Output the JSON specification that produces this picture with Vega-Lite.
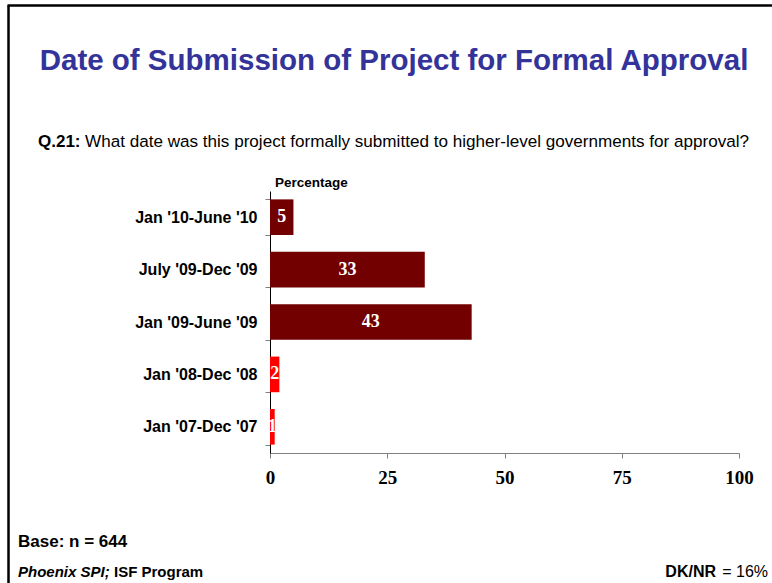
{
  "$schema": "https://vega.github.io/schema/vega-lite/v6.json",
  "autosize": "none",
  "width": 469,
  "height": 262,
  "padding": {"left": 270, "top": 191, "right": 33, "bottom": 130},
  "background": "white",
  "config": {"view": {"stroke": null}, "font": "Liberation Sans"},
  "data": {
    "values": [
      {"period": "Jan '10-June '10", "startYear": 2010, "percent": 5},
      {"period": "July '09-Dec '09", "startYear": 2009, "percent": 33},
      {"period": "Jan '09-June '09", "startYear": 2009, "percent": 43},
      {"period": "Jan '08-Dec '08", "startYear": 2008, "percent": 2},
      {"period": "Jan '07-Dec '07", "startYear": 2007, "percent": 1}
    ]
  },
  "layer": [
    {
      "mark": {"type": "bar"},
      "encoding": {
        "y": {
          "field": "period", "type": "nominal", "sort": null,
          "scale": {"paddingInner": 0.32, "paddingOuter": 0.16},
          "axis": {
            "title": null, "domainColor": "#000000", "tickColor": "#808080",
            "tickBand": "extent", "tickSize": 5, "labelFont": "Liberation Sans",
            "labelFontWeight": "bold", "labelFontSize": 16, "labelColor": "#000000",
            "labelPadding": 8, "labelLimit": 300
          }
        },
        "x": {
          "field": "percent", "type": "quantitative",
          "scale": {"domain": [0, 100], "nice": false},
          "axis": {
            "title": null, "values": [0, 25, 50, 75, 100], "grid": false,
            "domainColor": "#808080", "tickColor": "#808080", "tickSize": 5,
            "labelFont": "Liberation Serif", "labelFontWeight": "bold", "labelFontSize": 19,
            "labelColor": "#000000", "labelPadding": 10, "labelFlush": false
          }
        },
        "color": {
          "field": "startYear", "type": "quantitative",
          "scale": {"type": "threshold", "domain": [2009], "range": ["#ff0000", "#720000"]},
          "legend": null
        }
      }
    },
    {
      "transform": [{"calculate": "datum.percent / 2", "as": "labelPos"}],
      "mark": {"type": "text", "font": "Liberation Serif", "fontWeight": "bold", "fontSize": 18, "color": "#ffffff", "baseline": "middle", "align": "center"},
      "encoding": {
        "y": {"field": "period", "type": "nominal", "sort": null},
        "x": {"field": "labelPos", "type": "quantitative"},
        "text": {"field": "percent", "type": "quantitative"}
      }
    },
    {
      "data": {"values": [{}]},
      "mark": {"type": "rule", "color": "#000000", "strokeWidth": 2.5},
      "encoding": {"x": {"value": -261.5}, "x2": {"value": -261.5}, "y": {"value": -185.5}, "y2": {"value": 392}}
    },
    {
      "data": {"values": [{}]},
      "mark": {"type": "rule", "color": "#000000", "strokeWidth": 2.5},
      "encoding": {"x": {"value": -262.5}, "x2": {"value": 505}, "y": {"value": -185.5}, "y2": {"value": -185.5}}
    },
    {
      "data": {"values": [{}]},
      "mark": {"type": "text", "text": "Date of Submission of Project for Formal Approval", "font": "Liberation Sans", "fontWeight": "bold", "fontSize": 29.5, "color": "#333399", "align": "center", "baseline": "alphabetic"},
      "encoding": {"x": {"value": 124}, "y": {"value": -121}}
    },
    {
      "data": {"values": [{}]},
      "mark": {"type": "text", "text": "Q.21:", "font": "Liberation Sans", "fontWeight": "bold", "fontSize": 17, "color": "#000000", "align": "left", "baseline": "alphabetic"},
      "encoding": {"x": {"value": -232}, "y": {"value": -44}}
    },
    {
      "data": {"values": [{}]},
      "mark": {"type": "text", "text": "What date was this project formally submitted to higher-level governments for approval?", "font": "Liberation Sans", "fontSize": 17.1, "color": "#000000", "align": "left", "baseline": "alphabetic"},
      "encoding": {"x": {"value": -185}, "y": {"value": -44}}
    },
    {
      "data": {"values": [{}]},
      "mark": {"type": "text", "text": "Percentage", "font": "Liberation Sans", "fontWeight": "bold", "fontSize": 13.5, "color": "#000000", "align": "left", "baseline": "alphabetic"},
      "encoding": {"x": {"value": 5}, "y": {"value": -4}}
    },
    {
      "data": {"values": [{}]},
      "mark": {"type": "text", "text": "Base: n = 644", "font": "Liberation Sans", "fontWeight": "bold", "fontSize": 17, "color": "#000000", "align": "left", "baseline": "alphabetic"},
      "encoding": {"x": {"value": -252}, "y": {"value": 356}}
    },
    {
      "data": {"values": [{}]},
      "mark": {"type": "text", "text": "Phoenix SPI;", "font": "Liberation Sans", "fontWeight": "bold", "fontStyle": "italic", "fontSize": 15, "color": "#000000", "align": "left", "baseline": "alphabetic"},
      "encoding": {"x": {"value": -252}, "y": {"value": 386}}
    },
    {
      "data": {"values": [{}]},
      "mark": {"type": "text", "text": "ISF Program", "font": "Liberation Sans", "fontWeight": "bold", "fontSize": 15, "color": "#000000", "align": "left", "baseline": "alphabetic"},
      "encoding": {"x": {"value": -156}, "y": {"value": 386}}
    },
    {
      "data": {"values": [{}]},
      "mark": {"type": "text", "text": "DK/NR", "font": "Liberation Sans", "fontWeight": "bold", "fontSize": 16, "color": "#000000", "align": "right", "baseline": "alphabetic"},
      "encoding": {"x": {"value": 446}, "y": {"value": 386}}
    },
    {
      "data": {"values": [{}]},
      "mark": {"type": "text", "text": "= 16%", "font": "Liberation Sans", "fontSize": 16, "color": "#000000", "align": "right", "baseline": "alphabetic"},
      "encoding": {"x": {"value": 498}, "y": {"value": 386}}
    }
  ]
}
